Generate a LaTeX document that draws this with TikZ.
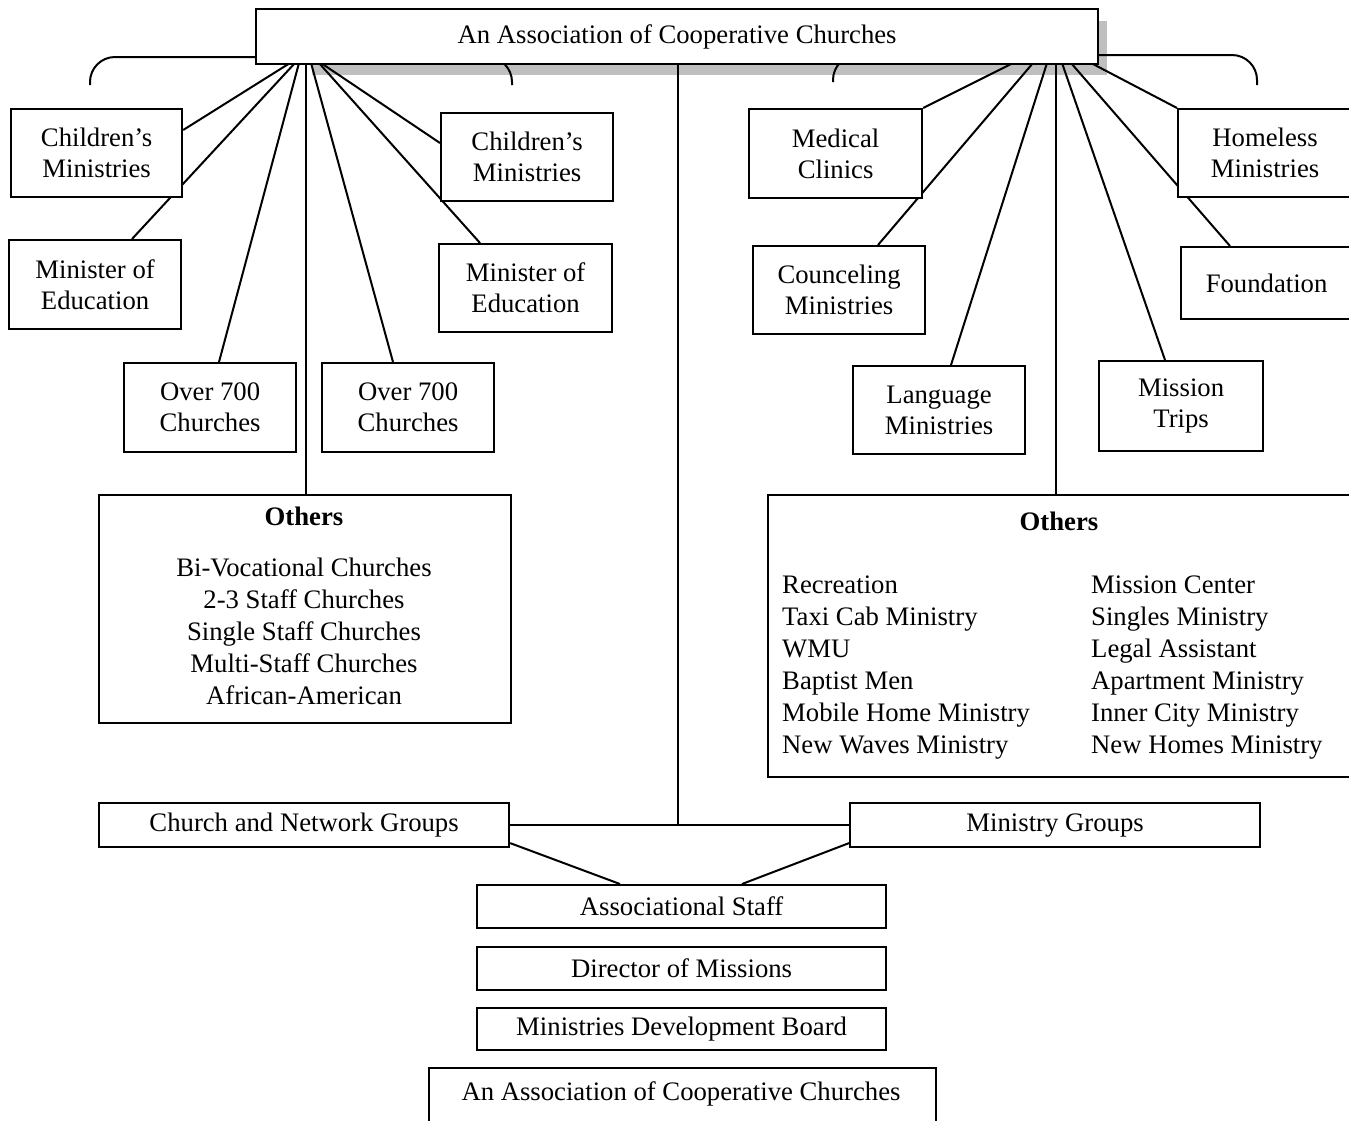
\documentclass[tikz,border=0pt]{standalone}
\usepackage{fontspec}
\setmainfont{Liberation Serif}
\usetikzlibrary{calc}
\pgfdeclarelayer{bg}
\pgfsetlayers{bg,main}
\begin{document}
\begin{tikzpicture}[x=1pt,y=-1pt,
  txt/.style={font=\fontsize{26.7}{31}\selectfont},
  box/.style={draw, line width=2.2pt, fill=white, align=center, inner sep=0pt, anchor=north west, txt},
  lbl/.style={txt, inner sep=0pt},
  conn/.style={line width=2pt},
  brace/.style={line width=2pt, rounded corners=25pt},
  shadowfill/.style={fill=black!25, draw=none}]
\useasboundingbox (0,0) rectangle (1349,1120);
% fan coordinates on bottom edge of top box
\coordinate (f1) at (290,63);
\coordinate (f2) at (295,63);
\coordinate (f3) at (299,63);
\coordinate (fv) at (306,63);
\coordinate (f5) at (311,63);
\coordinate (f6) at (319,63);
\coordinate (f7) at (321,63);
\coordinate (g1) at (1013,63);
\coordinate (g2) at (1033,63);
\coordinate (g3) at (1047,63);
\coordinate (gv) at (1056,63);
\coordinate (g5) at (1062,63);
\coordinate (g6) at (1071,63);
\coordinate (g7) at (1091,63);
\coordinate (cv) at (678,63);
% nodes
\node[box, minimum width=171pt, minimum height=88pt] (cmL) at (10,108) {Children’s\\Ministries};
\node[box, minimum width=172pt, minimum height=89pt] (meL) at (8,239) {Minister of\\Education};
\node[box, minimum width=172pt, minimum height=89pt] (o7L) at (123,362) {Over 700\\Churches};
\node[box, minimum width=172pt, minimum height=89pt] (o7R) at (321,362) {Over 700\\Churches};
\node[box, minimum width=173pt, minimum height=88pt] (meM) at (438,243) {Minister of\\Education};
\node[box, minimum width=172pt, minimum height=88pt] (cmM) at (440,112) {Children’s\\Ministries};
\node[box, minimum width=412pt, minimum height=228pt] (othL) at (98,494) {};
\node[box, minimum width=173pt, minimum height=89pt] (mc) at (748,108) {Medical\\Clinics};
\node[box, minimum width=172pt, minimum height=88pt] (cc) at (752,245) {Counceling\\Ministries};
\node[box, minimum width=172pt, minimum height=88pt] (lm) at (852,365) {Language\\Ministries};
\node[box, minimum width=164pt, minimum height=90pt] (mt) at (1098,360) {Mission\\Trips};
\node[box, minimum width=171pt, minimum height=72pt] (fd) at (1180,246) {Foundation};
\node[box, minimum width=174pt, minimum height=88pt] (hm) at (1177,108) {Homeless\\Ministries};
\node[box, minimum width=590pt, minimum height=282pt] (othR) at (767,494) {};
\node[box, minimum width=410pt, minimum height=44pt] (cng) at (98,802) {Church and Network Groups};
\node[box, minimum width=410pt, minimum height=44pt] (mg) at (849,802) {Ministry Groups};
\node[box, minimum width=409pt, minimum height=43pt] (as) at (476,884) {Associational Staff};
\node[box, minimum width=409pt, minimum height=43pt] (dm) at (476,946) {Director of Missions};
\node[box, minimum width=409pt, minimum height=42pt] (mdb) at (476,1007) {Ministries Development Board};
\node[box, minimum width=507pt, minimum height=80pt] (acc) at (428,1067) {};
\node[lbl] (acct) at (681,1094) {An Association of Cooperative Churches};
% Others texts
\node[lbl, anchor=base] (othLt) at (304,525) {\textbf{Others}};
\foreach \t [count=\i from 0] in {Bi-Vocational Churches, 2-3 Staff Churches, Single Staff Churches, Multi-Staff Churches, African-American}
  \node[lbl, anchor=base] (othL\i) at (304,{576+32*\i}) {\t};
\node[lbl, anchor=base] (othRt) at (1059,530) {\textbf{Others}};
\foreach \t [count=\i from 0] in {Recreation, Taxi Cab Ministry, WMU, Baptist Men, Mobile Home Ministry, New Waves Ministry}
  \node[lbl, anchor=base west] (othRa\i) at (782,{593+32*\i}) {\t};
\foreach \t [count=\i from 0] in {Mission Center, Singles Ministry, Legal Assistant, Apartment Ministry, Inner City Ministry, New Homes Ministry}
  \node[lbl, anchor=base west] (othRb\i) at (1091,{593+32*\i}) {\t};
% shadow, brackets and connectors behind boxes
\begin{pgfonlayer}{bg}
\fill[shadowfill] (312,21) rectangle (1107,75);
\draw[brace] (90,85) -- (90,57) -- (512,57) -- (512,85);
\draw[brace] (833,82) -- (833,55) -- (1257,55) -- (1257,85);
\draw[conn] (f1) -- ([yshift=-22pt]cmL.north east);
\draw[conn] (f2) -- ([xshift=124pt]meL.north west);
\draw[conn] (f3) -- ([xshift=96pt]o7L.north west);
\draw[conn] (fv) -- (fv |- othL.north);
\draw[conn] (f5) -- ([xshift=72pt]o7R.north west);
\draw[conn] (f6) -- ([xshift=42pt]meM.north west);
\draw[conn] (f7) -- ([yshift=-31pt]cmM.north west);
\draw[conn] (g1) -- (mc.north east);
\draw[conn] (g2) -- ([xshift=126pt]cc.north west);
\draw[conn] (g3) -- ([xshift=99pt]lm.north west);
\draw[conn] (gv) -- (gv |- othR.north);
\draw[conn] (g5) -- ([xshift=67pt]mt.north west);
\draw[conn] (g6) -- ([xshift=50pt]fd.north west);
\draw[conn] (g7) -- (hm.north west);
\draw[conn] (cv) -- (cv |- cng.east);
\draw[conn] (cng.east) -- (mg.west);
\draw[conn] ([yshift=-18pt]cng.east) -- ([xshift=144pt]as.north west);
\draw[conn] ([yshift=-18pt]mg.west) -- ([xshift=266pt]as.north west);
\end{pgfonlayer}
% top box
\node[box, minimum width=842pt, minimum height=55pt] (top) at (255,8) {An Association of Cooperative Churches};
\end{tikzpicture}
\end{document}
